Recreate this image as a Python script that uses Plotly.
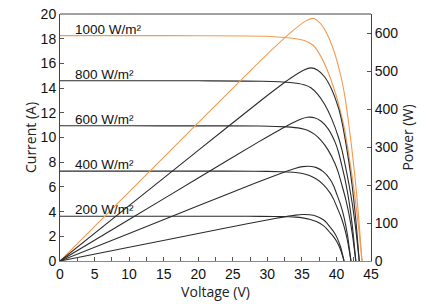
import plotly.graph_objects as go

# ---- data ----
irradiance_labels = ["1000 W/m²", "800 W/m²", "600 W/m²", "400 W/m²", "200 W/m²"]
isc_values = [18.25, 14.6, 10.95, 7.28, 3.62]

voltage_1000 = [0, 10, 20, 29.7, 33.7, 35.7, 36.7, 37.7, 38.7, 39.7, 40.7, 41.2, 41.7, 42.2, 42.7, 43.2, 43.7]
current_1000 = [18.25, 18.25, 18.24, 18.20, 18.03, 17.78, 17.43, 16.61, 15.42, 13.87, 11.86, 10.59, 8.94, 7.12, 5.11, 2.74, 0]
power_1000 = [0, 182.5, 364.8, 540.5, 607.6, 634.7, 639.7, 626.2, 596.8, 550.6, 482.7, 436.3, 372.8, 300.5, 218.2, 118.4, 0]

voltage_800 = [0, 10, 20, 29.3, 33.3, 35.3, 36.3, 37.3, 38.3, 39.3, 40.3, 40.8, 41.3, 41.8, 42.3, 42.8, 43.3]
current_800 = [14.6, 14.6, 14.59, 14.56, 14.45, 14.27, 14.03, 13.49, 12.67, 11.53, 10.00, 8.98, 7.67, 6.24, 4.60, 2.56, 0]
power_800 = [0, 146.0, 291.8, 426.6, 481.2, 503.7, 509.3, 503.2, 485.3, 453.1, 403.0, 366.4, 316.8, 260.8, 194.6, 109.6, 0]

voltage_600 = [0, 10, 20, 28.8, 32.8, 34.8, 35.8, 36.8, 37.8, 38.8, 39.8, 40.3, 40.8, 41.3, 41.8, 42.3, 42.8]
current_600 = [10.95, 10.95, 10.94, 10.93, 10.86, 10.74, 10.59, 10.27, 9.75, 8.98, 7.88, 7.12, 6.13, 5.09, 3.83, 2.19, 0]
power_600 = [0, 109.5, 218.8, 314.8, 356.2, 373.8, 379.1, 377.9, 368.6, 348.4, 313.6, 286.9, 250.1, 210.2, 160.1, 92.6, 0]

voltage_400 = [0, 10, 20, 28.1, 32.1, 34.1, 35.1, 36.1, 37.1, 38.1, 39.1, 39.6, 40.1, 40.6, 41.1, 41.6, 42.1]
current_400 = [7.28, 7.28, 7.28, 7.27, 7.23, 7.17, 7.09, 6.92, 6.64, 6.19, 5.50, 4.99, 4.33, 3.66, 2.80, 1.64, 0]
power_400 = [0, 72.8, 145.6, 204.3, 232.1, 244.5, 248.9, 249.8, 246.3, 235.8, 215.1, 197.6, 173.6, 148.6, 115.1, 68.2, 0]

voltage_200 = [0, 10, 20, 27.1, 31.1, 33.1, 34.1, 35.1, 36.1, 37.1, 38.1, 38.6, 39.1, 39.6, 40.1, 40.6, 41.1]
current_200 = [3.62, 3.62, 3.62, 3.62, 3.60, 3.58, 3.55, 3.49, 3.38, 3.19, 2.86, 2.61, 2.28, 1.95, 1.52, 0.91, 0]
power_200 = [0, 36.2, 72.4, 98.1, 112.0, 118.5, 121.1, 122.5, 122.0, 118.3, 109.0, 100.7, 89.1, 77.2, 61.0, 36.9, 0]

voltages = [voltage_1000, voltage_800, voltage_600, voltage_400, voltage_200]
currents = [current_1000, current_800, current_600, current_400, current_200]
powers = [power_1000, power_800, power_600, power_400, power_200]
colors = ["#F39A50", "#2b2b2b", "#2b2b2b", "#2b2b2b", "#2b2b2b"]

fig = go.Figure()
for v, i, p, c in zip(voltages, currents, powers, colors):
    fig.add_trace(go.Scatter(x=v, y=i, mode="lines", yaxis="y",
                             line=dict(color=c, width=1.1, shape="spline", smoothing=0.6),
                             showlegend=False, hoverinfo="skip"))
    fig.add_trace(go.Scatter(x=v, y=p, mode="lines", yaxis="y2",
                             line=dict(color=c, width=1.1, shape="spline", smoothing=0.6),
                             showlegend=False, hoverinfo="skip"))

for lab, isc in zip(irradiance_labels, isc_values):
    fig.add_annotation(x=1.9, y=isc, xref="x", yref="y", text=lab, showarrow=False,
                       xanchor="left", yanchor="bottom", yshift=-3,
                       font=dict(family="Liberation Sans, Arial", size=13.5, color="#111"))

tick_font = dict(family="Liberation Sans, Arial", size=14, color="#111")
title_font = dict(family="Open Sans, Liberation Sans", size=14, color="#222")

# page body has an 8px margin, so the figure is sized to fit the 430x304 window
fig.update_layout(
    width=422, height=296,
    margin=dict(l=52, r=59, t=6, b=43),
    plot_bgcolor="white", paper_bgcolor="white",
    xaxis=dict(range=[0, 45], dtick=5, tick0=0, ticks="inside", ticklen=4, tickcolor="#555",
               minor=dict(dtick=2.5, ticks="inside", ticklen=4, tickcolor="#555"),
               showline=True, linecolor="#8a8a8a", linewidth=1, mirror=False,
               showgrid=False, zeroline=False, tickfont=tick_font, automargin=False,
               ticklabeloverflow="allow",
               title=dict(text="Voltage (V)", font=title_font, standoff=2)),
    yaxis=dict(range=[0, 20], dtick=2, ticks="inside", ticklen=4, tickcolor="#555",
               showline=True, linecolor="#444", linewidth=1, automargin=False,
               showgrid=False, zeroline=False, tickfont=tick_font,
               ticklabeloverflow="allow",
               title=dict(text="Current (A)", font=title_font, standoff=0)),
    yaxis2=dict(range=[0, 651.5], dtick=100, overlaying="y", side="right",
                ticks="inside", ticklen=4, tickcolor="#555", automargin=False,
                showline=True, linecolor="#444", linewidth=1,
                showgrid=False, zeroline=False, tickfont=tick_font,
                ticklabeloverflow="allow",
                title=dict(text="Power (W)", font=title_font, standoff=4)),
    shapes=[dict(type="line", xref="paper", yref="paper", x0=0, x1=1, y0=1, y1=1,
                 line=dict(color="#444", width=1))],
)

fig.write_html("out.html")
